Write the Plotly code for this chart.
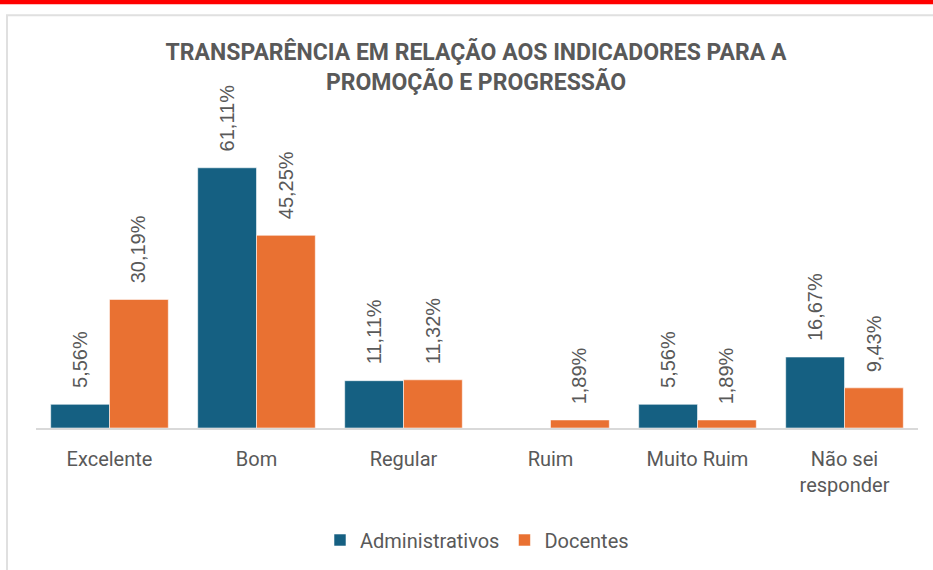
import plotly.graph_objects as go

categories = ["Excelente", "Bom", "Regular", "Ruim", "Muito Ruim", "Não sei<br>responder"]
administrativos = [5.56, 61.11, 11.11, 0.0, 5.56, 16.67]
docentes = [30.19, 45.25, 11.32, 1.89, 1.89, 9.43]
series_names = ["Administrativos", "Docentes"]

BLUE = "#156082"
ORANGE = "#E97132"
GRAY = "#595959"

W, H = 933, 570
ML, MR, MT, MB = 36, 15, 100, 141
plot_w = W - ML - MR
plot_h = H - MT - MB
px_per_unit = 261 / 61.11
ymax = plot_h / px_per_unit

fig = go.Figure()
for name, vals, col in [(series_names[0], administrativos, BLUE), (series_names[1], docentes, ORANGE)]:
    fig.add_trace(go.Bar(
        x=categories, y=vals, name=name,
        marker=dict(color=col, line=dict(color="rgba(255,255,255,0.55)", width=1)),
        hoverinfo="skip",
    ))

annotations = []
for offset, vals in [(-0.2, administrativos), (0.2, docentes)]:
    for i, v in enumerate(vals):
        if v == 0:
            continue
        annotations.append(dict(
            x=i + offset, y=v, xref="x", yref="y",
            text=f"{v:.2f}%".replace(".", ","),
            textangle=-90, showarrow=False,
            yanchor="bottom", xanchor="center", yshift=14,
            font=dict(family="Liberation Sans, Arial, sans-serif", size=20, color=GRAY),
        ))

def px_x(p):
    return (p - ML) / plot_w

def px_y(p):
    return (H - MB - p) / plot_h

shapes = [
    dict(type="rect", xref="paper", yref="paper", x0=px_x(-5), x1=px_x(W + 5),
         y0=px_y(4), y1=px_y(-5), fillcolor="#FF0000", line=dict(width=0), layer="above"),
    dict(type="path", xref="paper", yref="paper",
         path=f"M {px_x(7)} {px_y(H + 5)} L {px_x(7)} {px_y(15)} L {px_x(W + 5)} {px_y(15)}",
         line=dict(color="#E0E0E0", width=2)),
]

fig.update_layout(
    width=W, height=H,
    margin=dict(l=ML, r=MR, t=MT, b=MB),
    paper_bgcolor="white", plot_bgcolor="white",
    barmode="group", bargap=0.2, bargroupgap=0,
    title=dict(
        text="TRANSPARÊNCIA EM RELAÇÃO AOS INDICADORES PARA A<br>PROMOÇÃO E PROGRESSÃO",
        x=476 / W, xanchor="center",
        y=1 - 60 / H, yanchor="top", yref="container",
        font=dict(family="Roboto, sans-serif", size=23, color=GRAY, weight="bold"),
    ),
    xaxis=dict(
        showline=True, linecolor="#D9D9D9", linewidth=1.5,
        ticks="outside", ticklen=12, tickcolor="rgba(0,0,0,0)",
        tickfont=dict(family="Roboto, sans-serif", size=20, color=GRAY),
        showgrid=False, fixedrange=True,
    ),
    yaxis=dict(range=[0, ymax], visible=False, showgrid=False, fixedrange=True),
    legend=dict(
        orientation="h", x=0.5, xanchor="center", y=px_y(540), yanchor="middle",
        font=dict(family="Roboto, sans-serif", size=20, color=GRAY),
        itemwidth=30, traceorder="normal",
    ),
    annotations=annotations,
    shapes=shapes,
    showlegend=True,
)

fig.write_html(
    "out.html",
    config={"displayModeBar": False},
    post_script="document.body.style.margin='0';document.body.style.overflow='hidden';",
)
